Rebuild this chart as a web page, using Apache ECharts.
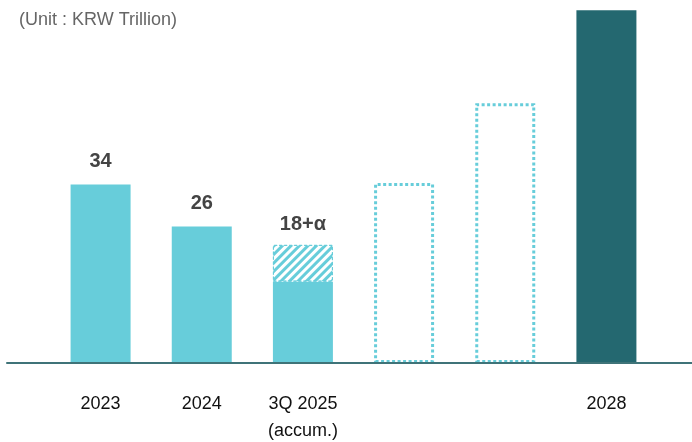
<!DOCTYPE html>
<html><head><meta charset="utf-8">
<script src="https://cdn.jsdelivr.net/npm/echarts@6/dist/echarts.min.js"></script>
<style>html,body{margin:0;padding:0;background:#fff}#c{width:692px;height:442px}</style>
</head><body><div id="c"></div>
<script>
const categories = ['2023', '2024', '3Q 2025\n(accum.)', '', '', '2028'];
const solidValues = [34, 26, 15.5, null, null, 67.2];
const hatchValues = [null, null, 7, null, null, null];
const projectedValues = [null, null, null, 34.3, 49.5, null];
const valueLabels = ['34', '26', '18+α', '', '', ''];
const highlightIndex = 5;

const LIGHT = '#67CDDA', DARK = '#246870';
const FONT = '"Liberation Sans", Arial, sans-serif';

const chart = echarts.init(document.getElementById('c'), null, {renderer: 'canvas'});
const labelStyle = {show: true, position: 'top', distance: 13, fontFamily: FONT, fontWeight: 'bold', fontSize: 20, color: '#444'};
chart.setOption({
  animation: false,
  title: {text: '(Unit : KRW Trillion)', left: 14, top: 6, textStyle: {fontFamily: FONT, fontSize: 18, fontWeight: 'normal', color: '#666'}},
  grid: [
    {left: 50, right: 35, top: 6, bottom: 79, outerBoundsMode: 'none', containLabel: false},
    {left: 7, right: 0, top: 6, bottom: 79, outerBoundsMode: 'none', containLabel: false}
  ],
  xAxis: [
    {type: 'category', data: categories, gridIndex: 0, axisLine: {show: false}, axisTick: {show: false},
     axisLabel: {margin: 28, fontFamily: FONT, fontSize: 18, color: '#111', lineHeight: 27, interval: 0}},
    {type: 'category', data: [''], gridIndex: 1, axisLine: {show: true, lineStyle: {color: '#3f7378', width: 2}}, axisTick: {show: false}, axisLabel: {show: false}, z: 10}
  ],
  yAxis: [
    {type: 'value', gridIndex: 0, min: 0, max: 68, show: false, splitLine: {show: false}},
    {type: 'value', gridIndex: 1, show: false, splitLine: {show: false}}
  ],
  series: [
    {type: 'bar', stack: 'a', barWidth: 60,
     data: solidValues.map((v, i) => ({value: v, itemStyle: {color: i === highlightIndex ? DARK : LIGHT}})),
     label: Object.assign({}, labelStyle, {formatter: p => hatchValues[p.dataIndex] == null ? valueLabels[p.dataIndex] : ''})},
    {type: 'bar', stack: 'a', barWidth: 60,
     data: hatchValues,
     itemStyle: {color: '#ffffff', borderColor: LIGHT, borderWidth: 1, borderType: [3, 2],
       decal: {symbol: 'rect', color: LIGHT, dashArrayX: [1, 0], dashArrayY: [3, 3], rotation: -Math.PI / 4}},
     label: Object.assign({}, labelStyle, {distance: 10, formatter: p => valueLabels[p.dataIndex]})},
    {type: 'bar', stack: 'a', barWidth: 58,
     data: projectedValues,
     itemStyle: {color: 'rgba(255,255,255,0)', borderColor: LIGHT, borderWidth: 3, borderType: [3, 2.5]}}
  ]
});
</script></body></html>
